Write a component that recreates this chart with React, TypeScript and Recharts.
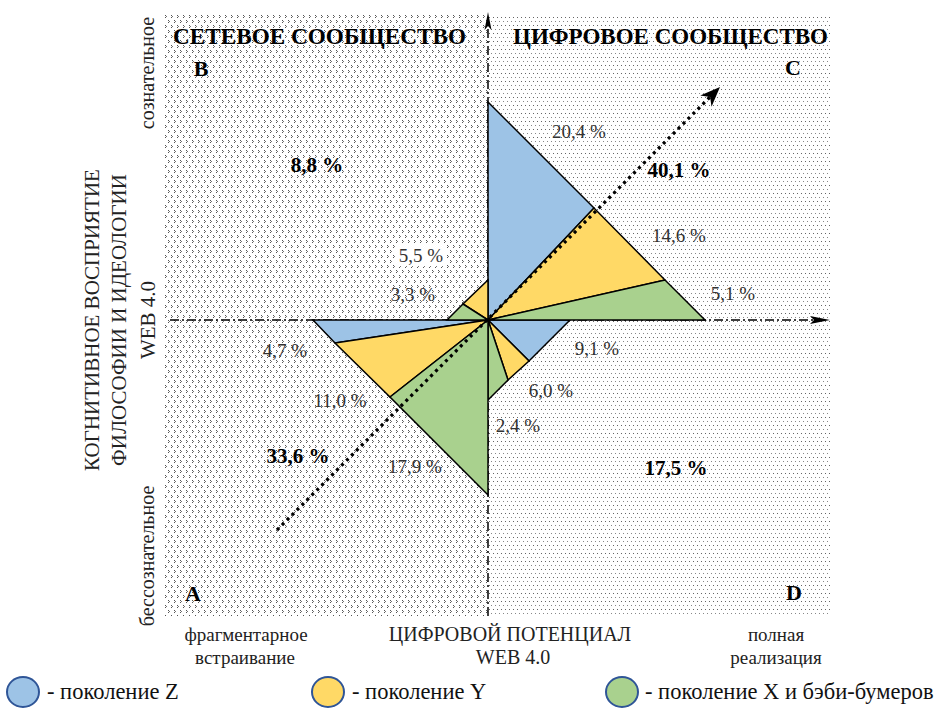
import React from "react";
import { ScatterChart, Scatter, XAxis, YAxis } from "recharts";

type Pt = { x: number; y: number };

// quadrants in drawing order: C (top right), D (bottom right), A (bottom left), B (top left)
const QUADRANTS = ["C", "D", "A", "B"];
const TOTALS = [40.1, 17.5, 33.6, 8.8];
const GEN_Z = [20.4, 9.1, 4.7]; // no Z wedge in B
const GEN_Y = [14.6, 6.0, 11.0, 5.5];
const GEN_X = [5.1, 2.4, 17.9, 3.3];

// wedge corners, units from the centre (x right, y up)
const WEDGE_Z = [
  [[0, 0], [0, 218], [106, 112]],
  [[0, 0], [82, 0], [41, -41]],
  [[0, 0], [-175, 0], [-153, -23]],
];
const WEDGE_Y = [
  [[0, 0], [106, 112], [177, 40]],
  [[0, 0], [41, -41], [20, -60]],
  [[0, 0], [-153, -23], [-98, -77]],
  [[0, 0], [-25, 16], [0, 40]],
];
const WEDGE_X = [
  [[0, 0], [177, 40], [217, 0]],
  [[0, 0], [20, -60], [0, -80]],
  [[0, 0], [-98, -77], [0, -175]],
  [[0, 0], [-41, 0], [-25, 16]],
];

// trend arrow and axes
const TREND = [[-211, -210], [232, 233]];
const H_AXIS = [[-318, 0], [342, 0]];
const V_AXIS = [[0, -296], [0, 308]];
const FIELD_LEFT = [[-323, -296], [0, -296], [0, 306], [-323, 306]];
const FIELD_RIGHT = [[0, -296], [343, -296], [343, 306], [0, 306]];

// label anchors (layout)
const POS_Z = [[91, 189], [109, -28], [-203, -30]];
const POS_Y = [[191, 85], [63, -70], [-148, -80], [-67, 65]];
const POS_X = [[245, 27], [30, -105], [-73, -146], [-75, 26]];
const POS_TOTAL = [[191, 150], [188, -148], [-190, -136], [-171, 155]];
const POS_LETTER = [[305, 253], [306, -272], [-295, -273], [-287, 252]];

const BLUE = "#9DC3E6";
const YELLOW = "#FFD966";
const GREEN = "#A9D18E";
const SERIF = "'Liberation Serif', 'Times New Roman', Times, serif";

const fmt = (v: number) => v.toFixed(1).replace(".", ",") + " %";
const toPts = (poly: number[][]) => poly.map(([x, y]) => ({ x, y }));

const NoDot = () => <g />;

function polygonLine(fill: string, stroke = "#000") {
  return (p: any) => {
    const pts: Pt[] = p.points || [];
    return (
      <polygon
        points={pts.map((q) => `${q.x},${q.y}`).join(" ")}
        fill={fill}
        stroke={stroke}
        strokeWidth={stroke === "none" ? 0 : 1.5}
        strokeLinejoin="miter"
      />
    );
  };
}

function arrowLine(dash: string, width: number, headLen: number, headHalf: number, notch: number) {
  return (p: any) => {
    const pts: Pt[] = p.points || [];
    if (pts.length < 2) return <g />;
    const a = pts[0];
    const b = pts[1];
    const dx = b.x - a.x;
    const dy = b.y - a.y;
    const len = Math.hypot(dx, dy);
    const ux = dx / len;
    const uy = dy / len;
    const bx = b.x - ux * headLen;
    const by = b.y - uy * headLen;
    const nx = bx + ux * notch;
    const ny = by + uy * notch;
    return (
      <g>
        <line x1={a.x} y1={a.y} x2={nx} y2={ny} stroke="#000" strokeWidth={width} strokeDasharray={dash} />
        <polygon
          points={`${b.x},${b.y} ${bx - uy * headHalf},${by + ux * headHalf} ${nx},${ny} ${bx + uy * headHalf},${by - ux * headHalf}`}
          fill="#000"
        />
      </g>
    );
  };
}

type Lbl = { x: number; y: number; text: string; kind: "val" | "total" | "letter"; box?: boolean };

const LabelShape = (p: any) => {
  const { cx, cy, payload } = p;
  const d = payload as Lbl;
  const bold = d.kind !== "val";
  const size = d.kind === "letter" ? 22 : d.kind === "total" ? 21 : 19;
  return (
    <g>
      {d.box && <rect x={cx - 25} y={cy - 11} width={50} height={22} fill="#fff" />}
      <text
        x={cx}
        y={cy}
        textAnchor="middle"
        dominantBaseline="central"
        style={{ fontFamily: SERIF }}
        fontSize={size}
        fontWeight={bold ? 700 : 400}
        fill={bold ? "#000" : "#333"}
      >
        {d.text}
      </text>
    </g>
  );
};

function buildLabels(): Lbl[] {
  const out: Lbl[] = [];
  GEN_Z.forEach((v, i) => out.push({ x: POS_Z[i][0], y: POS_Z[i][1], text: fmt(v), kind: "val" }));
  GEN_Y.forEach((v, i) => out.push({ x: POS_Y[i][0], y: POS_Y[i][1], text: fmt(v), kind: "val", box: i === 3 }));
  GEN_X.forEach((v, i) => out.push({ x: POS_X[i][0], y: POS_X[i][1], text: fmt(v), kind: "val" }));
  TOTALS.forEach((v, i) => out.push({ x: POS_TOTAL[i][0], y: POS_TOTAL[i][1], text: fmt(v), kind: "total" }));
  QUADRANTS.forEach((q, i) => out.push({ x: POS_LETTER[i][0], y: POS_LETTER[i][1], text: q, kind: "letter" }));
  return out;
}

const LEGEND = [
  { color: BLUE, label: "- поколение Z", cx: 23, tx: 47 },
  { color: YELLOW, label: "- поколение Y", cx: 328, tx: 352 },
  { color: GREEN, label: "- поколение X и бэби-бумеров", cx: 622, tx: 645 },
];

export default function App() {
  const labels = buildLabels();
  return (
    <div style={{ position: "relative", width: 942, height: 711, background: "#fff", fontFamily: SERIF }}>
      <style>{"body{margin:0}"}</style>
      <svg width={0} height={0} style={{ position: "absolute" }}>
        <defs>
          <pattern id="denseDots" width={6} height={10} patternUnits="userSpaceOnUse">
            <rect x={0} y={0} width={1} height={1} fill="#555" />
            <rect x={1} y={1} width={1} height={1} fill="#777" />
            <rect x={0} y={2} width={1} height={1} fill="#555" />
            <rect x={3} y={5} width={1} height={1} fill="#555" />
            <rect x={4} y={6} width={1} height={1} fill="#777" />
            <rect x={3} y={7} width={1} height={1} fill="#555" />
          </pattern>
          <pattern id="sparseDots" width={4} height={8} patternUnits="userSpaceOnUse">
            <rect x={1} y={1} width={1} height={1} fill="#666" />
            <rect x={3} y={5} width={1} height={1} fill="#888" />
          </pattern>
        </defs>
      </svg>
      <ScatterChart width={942} height={711} margin={{ top: 8, right: 111, bottom: 95, left: 165 }}>
        <XAxis type="number" dataKey="x" domain={[-323, 343]} hide allowDataOverflow />
        <YAxis type="number" dataKey="y" domain={[-296, 312]} hide allowDataOverflow />
        <Scatter data={toPts(FIELD_LEFT)} line={polygonLine("url(#denseDots)", "none")} shape={NoDot} isAnimationActive={false} />
        <Scatter data={toPts(FIELD_RIGHT)} line={polygonLine("url(#sparseDots)", "none")} shape={NoDot} isAnimationActive={false} />
        <Scatter data={toPts(H_AXIS)} line={arrowLine("9 3 2 3", 1.5, 20, 4, 4)} shape={NoDot} isAnimationActive={false} />
        <Scatter data={toPts(V_AXIS)} line={arrowLine("9 3 2 3", 1.5, 18, 3.5, 4)} shape={NoDot} isAnimationActive={false} />
        {WEDGE_Z.map((w, i) => (
          <Scatter key={"z" + i} data={toPts(w)} line={polygonLine(BLUE)} shape={NoDot} isAnimationActive={false} />
        ))}
        {WEDGE_Y.map((w, i) => (
          <Scatter key={"y" + i} data={toPts(w)} line={polygonLine(YELLOW)} shape={NoDot} isAnimationActive={false} />
        ))}
        {WEDGE_X.map((w, i) => (
          <Scatter key={"x" + i} data={toPts(w)} line={polygonLine(GREEN)} shape={NoDot} isAnimationActive={false} />
        ))}
        <Scatter data={toPts(TREND)} line={arrowLine("3 4", 3.2, 20, 8, 6)} shape={NoDot} isAnimationActive={false} />
        <Scatter data={labels} shape={LabelShape} isAnimationActive={false} />
      </ScatterChart>
      <svg
        width={942}
        height={711}
        style={{ position: "absolute", left: 0, top: 0, pointerEvents: "none", fontFamily: SERIF }}
      >
        <text x={173} y={44} fontSize={23.5} fontWeight={700} textLength={293} lengthAdjust="spacingAndGlyphs">
          СЕТЕВОЕ СООБЩЕСТВО
        </text>
        <text x={513} y={44} fontSize={23.5} fontWeight={700} textLength={315} lengthAdjust="spacingAndGlyphs">
          ЦИФРОВОЕ СООБЩЕСТВО
        </text>
        <g fontSize={21} fill="#222" textAnchor="middle" dominantBaseline="central">
          <text transform="translate(92,320) rotate(-90)">КОГНИТИВНОЕ  ВОСПРИЯТИЕ</text>
          <text transform="translate(119,320) rotate(-90)">ФИЛОСОФИИ И ИДЕОЛОГИИ</text>
          <text transform="translate(148,320) rotate(-90)">WEB 4.0</text>
        </g>
        <g fontSize={20} fill="#222" textAnchor="middle" dominantBaseline="central">
          <text transform="translate(147,73) rotate(-90)">сознательное</text>
          <text transform="translate(147,556) rotate(-90)">бессознательное</text>
        </g>
        <g fill="#222" textAnchor="middle">
          <text x={246} y={641} fontSize={19}>фрагментарное</text>
          <text x={245} y={664} fontSize={19}>встраивание</text>
          <text x={510} y={641} fontSize={20}>ЦИФРОВОЙ ПОТЕНЦИАЛ</text>
          <text x={513} y={664} fontSize={20}>WEB 4.0</text>
          <text x={776} y={641} fontSize={19}>полная</text>
          <text x={776} y={664} fontSize={19}>реализация</text>
        </g>
        {LEGEND.map((l) => (
          <g key={l.label}>
            <ellipse cx={l.cx} cy={692} rx={16} ry={15} fill={l.color} stroke="#2F5597" strokeWidth={2} />
            <text x={l.tx} y={699} fontSize={22.5} fill="#111">
              {l.label}
            </text>
          </g>
        ))}
      </svg>
    </div>
  );
}
